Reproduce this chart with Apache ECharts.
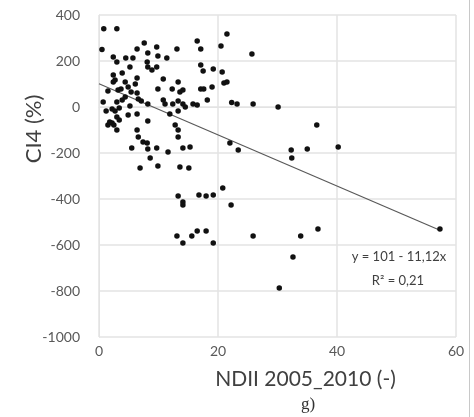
<!DOCTYPE html>
<html><head><meta charset="utf-8">
<script src="https://cdn.jsdelivr.net/npm/echarts@6/dist/echarts.min.js"></script>
<style>html,body{margin:0;padding:0;background:#fff}#c{width:474px;height:417px}</style>
</head><body><div id="c"></div>
<script>
// NDII 2005_2010 (x) values
const ndii = [0.8,3.0,0.5,2.4,3.0,4.5,5.7,5.2,6.4,7.6,8.2,8.1,8.2,8.9,9.7,9.9,9.7,11.4,13.1,10.8,
16.5,17.1,17.1,17.5,19.2,20.5,21.5,20.7,25.7,2.4,3.9,6.4,2.7,4.4,6.1,9.9,1.5,3.2,3.7,4.9,
5.4,6.4,6.6,7.1,0.7,3.0,3.9,5.2,10.8,11.1,8.2,2.7,3.4,6.4,3.0,2.2,1.5,2.5,8.2,3.0,
6.4,6.6,4.9,12.3,13.3,13.6,14.1,17.1,17.6,19.0,21.0,21.5,18.2,13.3,14.1,14.5,15.8,16.5,22.3,23.2,
25.9,30.1,13.3,11.9,12.8,13.3,13.3,7.4,8.1,5.5,8.2,9.7,11.6,8.6,6.9,9.9,14.1,15.3,13.6,15.1,
22.0,23.4,20.8,13.3,14.1,14.1,16.8,18.0,19.2,22.2,13.1,14.1,15.6,16.5,18.0,19.2,36.6,32.3,32.4,35.0,
40.2,25.9,33.9,36.8,32.6,30.3,57.3,1.2,2.2,1.8,12.4,4.4,2.4,3.4];
// CI4 (%) values
const ci4 = [340,340,250,217,196,213,213,174,252,278,235,196,174,161,261,222,174,213,252,122,
287,252,183,157,165,265,317,152,230,139,148,126,117,109,100,78,70,74,78,87,
65,61,35,26,22,22,30,4,30,13,13,-17,-4,-30,-43,-70,-78,-78,-61,-100,
-100,-130,-35,78,109,65,74,78,78,87,104,109,30,26,13,0,13,9,20,13,
13,0,-17,-30,-78,-100,-130,-152,-157,-178,-183,-178,-196,-222,-265,-257,-178,-174,-261,-265,
-157,-187,-352,-387,-413,-426,-383,-387,-383,-426,-561,-591,-561,-539,-539,-591,-78,-187,-222,-183,
-174,-561,-561,-530,-652,-787,-530,-17,-9,-65,13,43,109,-56];
// regression: y = 101 - 11.12x
const intercept = 101, slope = -11.12;
const trendX = [0, 57.3];
const xTicks = [0, 20, 40, 60];
const yTicks = [-1000, -800, -600, -400, -200, 0, 200, 400];

const pts = ndii.map((x, i) => [x, ci4[i]]);
const trend = trendX.map(x => [x, intercept + slope * x]);

const chart = echarts.init(document.getElementById('c'), null, {renderer: 'canvas'});
const grid = '#e3e3e3';
chart.setOption({
  animation: false,
  textStyle: {fontFamily: 'Lato'},
  grid: {left: 99, right: 18, top: 15, bottom: 80},
  xAxis: {
    type: 'value', min: xTicks[0], max: xTicks[xTicks.length - 1], interval: 20,
    axisLine: {show: true, lineStyle: {color: grid}},
    axisTick: {show: false},
    splitLine: {show: true, lineStyle: {color: grid, width: 1.5}},
    axisLabel: {color: '#595959', fontSize: 14, margin: 7, fontFamily: 'Lato', formatter: v => String(v)},
    name: 'NDII 2005_2010 (-)', nameLocation: 'middle', nameGap: 32,
    nameTextStyle: {color: '#404040', fontSize: 21, fontFamily: 'Lato', padding: [0, 0, 0, 56]}
  },
  yAxis: {
    type: 'value', min: yTicks[0], max: yTicks[yTicks.length - 1], interval: 200,
    axisLine: {show: true, lineStyle: {color: grid}},
    axisTick: {show: false},
    splitLine: {show: true, lineStyle: {color: grid, width: 1.5}},
    axisLabel: {color: '#595959', fontSize: 14, margin: 19, fontFamily: 'Lato', formatter: v => String(v)}
  },
  series: [
    {type: 'line', data: trend, symbol: 'none', lineStyle: {color: '#595959', width: 1.2}, z: 2},
    {type: 'scatter', data: pts, symbol: 'circle', symbolSize: 5.5, itemStyle: {color: '#111', opacity: 1}, z: 3}
  ],
  graphic: [
    {type: 'text', x: 34, y: 129, rotation: Math.PI / 2, style: {text: 'CI4 (%)', font: '22px Lato', fill: '#404040', align: 'center', verticalAlign: 'middle'}},
    {type: 'text', x: 399, y: 257, style: {text: 'y = 101 - 11,12x', font: '13px Lato', fill: '#404040', align: 'center', verticalAlign: 'middle'}},
    {type: 'text', x: 398, y: 281, style: {text: 'R² = 0,21', font: '13px Lato', fill: '#404040', align: 'center', verticalAlign: 'middle'}},
    {type: 'text', x: 308, y: 405, style: {text: 'g)', font: '17px "Liberation Serif"', fill: '#333', align: 'center', verticalAlign: 'middle'}},
    {type: 'line', shape: {x1: 469.5, y1: 0, x2: 469.5, y2: 417}, style: {stroke: '#c8c8c8', lineWidth: 1}}
  ]
});
</script></body></html>
